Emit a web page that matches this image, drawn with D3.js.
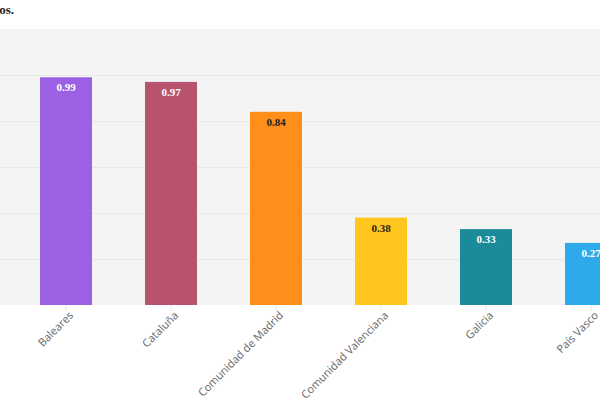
<!DOCTYPE html>
<html>
<head>
<meta charset="utf-8">
<script src="https://cdn.jsdelivr.net/npm/d3@7"></script>
<style>
  body { margin: 0; background: #fff; }
  svg { display: block; }
</style>
</head>
<body>
<script>
// data
var regions = ["Baleares", "Cataluña", "Comunidad de Madrid", "Comunidad Valenciana", "Galicia", "País Vasco"];
var values = [0.99, 0.97, 0.84, 0.38, 0.33, 0.27];
var barColors = ["#9b60e3", "#b8536e", "#ff8e1a", "#ffc61d", "#1b8a99", "#2ea9e9"];
var labelColors = ["#fff", "#fff", "#222", "#222", "#fff", "#fff"];
var yTicks = [0.2, 0.4, 0.6, 0.8, 1.0];

var width = 600, height = 400;
var plotTop = 29, plotBottom = 305;

var svg = d3.select("body").append("svg")
    .attr("width", width)
    .attr("height", height);

// scales
var x = d3.scaleBand()
    .domain(regions)
    .range([13.5, 643.5])
    .paddingInner(0.505)
    .paddingOuter(0.2525);

var y = d3.scaleLinear()
    .domain([0, 1.2])
    .range([plotBottom, plotTop]);

// title (cut off at the left in the original)
svg.append("text")
    .attr("x", 14)
    .attr("y", 14)
    .attr("text-anchor", "end")
    .style("font-family", "'Liberation Serif', serif")
    .style("font-size", "13px")
    .style("font-weight", "bold")
    .style("fill", "#222")
    .text("datos.");

// plot background
svg.append("rect")
    .attr("x", 0)
    .attr("y", plotTop)
    .attr("width", width)
    .attr("height", plotBottom - plotTop)
    .style("fill", "#f4f4f4");

// grid lines
svg.append("g")
    .selectAll("line")
    .data(yTicks)
    .enter()
    .append("line")
    .attr("x1", 0)
    .attr("x2", width)
    .attr("y1", function(d) { return Math.round(y(d)) + 0.5; })
    .attr("y2", function(d) { return Math.round(y(d)) + 0.5; })
    .style("stroke", "#e8e8e8")
    .style("stroke-width", 1);

// bars
svg.selectAll(".bar")
    .data(values)
    .enter()
    .append("rect")
    .attr("class", "bar")
    .attr("x", function(d, i) { return x(regions[i]); })
    .attr("y", function(d) { return y(d); })
    .attr("width", x.bandwidth())
    .attr("height", function(d) { return plotBottom - y(d); })
    .style("fill", function(d, i) { return barColors[i]; });

// value labels
svg.selectAll(".val")
    .data(values)
    .enter()
    .append("text")
    .attr("class", "val")
    .attr("x", function(d, i) { return x(regions[i]) + x.bandwidth() / 2; })
    .attr("y", function(d) { return y(d) + 14; })
    .attr("text-anchor", "middle")
    .style("font-family", "'Liberation Serif', 'Times New Roman', serif")
    .style("font-weight", "bold")
    .style("font-size", "11px")
    .style("fill", function(d, i) { return labelColors[i]; })
    .text(function(d) { return d.toFixed(2); });

// x axis
var xAxis = d3.axisBottom(x).tickSize(6).tickPadding(2);
var gx = svg.append("g")
    .attr("transform", "translate(0," + plotBottom + ")")
    .call(xAxis);
gx.select(".domain").remove();
gx.selectAll(".tick line").style("stroke", "#e6e6e6");
gx.selectAll(".tick text")
    .attr("transform", "rotate(-45)")
    .attr("text-anchor", "end")
    .attr("dx", "-0.2em")
    .attr("dy", "0.5em")
    .style("font-family", "'Open Sans', sans-serif")
    .style("font-size", "11px")
    .style("fill", "#666");
</script>
</body>
</html>
